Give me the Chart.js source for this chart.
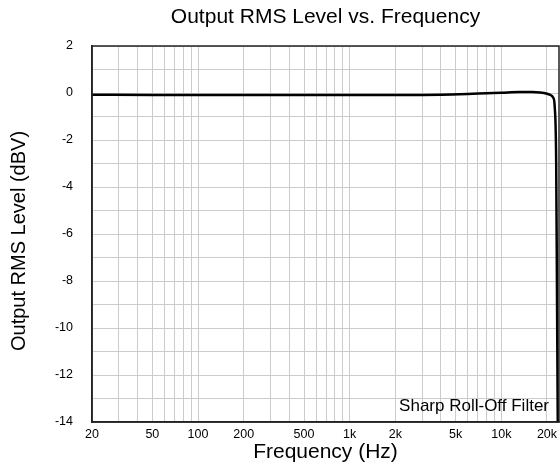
<!DOCTYPE html>
<html><head><meta charset="utf-8">
<script src="https://cdn.jsdelivr.net/npm/chart.js@4/dist/chart.umd.min.js"></script>
<style>html,body{margin:0;padding:0;background:#fff}#wrap{width:560px;height:471px}</style>
</head><body><div id="wrap"><canvas id="c"></canvas></div>
<script>
const freqs = [20, 50, 100, 200, 500, 1000, 2000, 4000, 6000, 8000, 10000, 13000, 16000, 18000, 20000, 21000, 22000, 22500, 23000, 23300, 23600];
const levels = [-0.07, -0.08, -0.08, -0.08, -0.08, -0.08, -0.08, -0.07, -0.04, -0.01, 0.01, 0.04, 0.04, 0.02, -0.03, -0.08, -0.2, -0.6, -3, -9, -15];
const xGridTicks = [20,30,40,50,60,70,80,90,100,200,300,400,500,600,700,800,900,1000,2000,3000,4000,5000,6000,7000,8000,9000,10000,20000];
const xLabels = {20:'20',50:'50',100:'100',200:'200',500:'500',1000:'1k',2000:'2k',5000:'5k',10000:'10k',20000:'20k'};
const yLabels = [2,0,-2,-4,-6,-8,-10,-12,-14];
const titleText = 'Output RMS Level vs. Frequency';
const yTitleText = 'Output RMS Level (dBV)';
const noteText = 'Sharp Roll-Off Filter';

const font = 'Liberation Sans, Arial, sans-serif';
const decorPlugin = {
  id: 'decor',
  beforeDraw(chart) {
    const ctx = chart.ctx;
    ctx.save(); ctx.fillStyle = '#fff'; ctx.fillRect(0,0,chart.width,chart.height); ctx.restore();
  },
  afterDatasetsDraw(chart) {
    const {ctx, chartArea} = chart;
    ctx.save();
    ctx.strokeStyle = '#222';
    ctx.lineWidth = 1.5;
    ctx.strokeRect(chartArea.left, chartArea.top, chartArea.right - chartArea.left, chartArea.bottom - chartArea.top);
    ctx.font = '17px ' + font;
    ctx.fillStyle = '#000';
    ctx.textAlign = 'right';
    ctx.textBaseline = 'middle';
    ctx.fillText(noteText, chartArea.right - 10, chartArea.bottom - 16);
    ctx.textAlign = 'center';
    ctx.font = '21px ' + font;
    ctx.fillText(titleText, (chartArea.left + chartArea.right) / 2, 17);
    ctx.translate(19, (chartArea.top + chartArea.bottom) / 2 + 7);
    ctx.rotate(-Math.PI / 2);
    ctx.font = '20px ' + font;
    ctx.fillText(yTitleText, 0, 0);
    ctx.restore();
  }
};

new Chart(document.getElementById('c'), {
  type: 'line',
  data: {
    datasets: [{
      data: freqs.map((f,i)=>({x:f, y:levels[i]})),
      borderColor: '#000',
      borderWidth: 2.5,
      pointRadius: 0,
      cubicInterpolationMode: 'monotone',
      fill: false
    }]
  },
  options: {
    responsive: true,
    maintainAspectRatio: false,
    animation: false,
    layout: { padding: { left: 0, right: 1, top: 46, bottom: 0 } },
    plugins: {
      legend: { display: false },
      tooltip: { enabled: false },
      title: { display: false }
    },
    scales: {
      x: {
        type: 'logarithmic',
        min: 20,
        max: 24000,
        afterBuildTicks(scale) { scale.ticks = xGridTicks.map(v => ({value: v})); },
        afterFit(scale) { scale.height = 49; scale.paddingRight = 0; scale.paddingLeft = 0; },
        ticks: {
          autoSkip: false,
          maxRotation: 0,
          color: '#000',
          padding: 5,
          font: { family: font, size: 12.5 },
          callback(v) { return xLabels[v] !== undefined ? xLabels[v] : ''; }
        },
        grid: { color: '#cccccc', lineWidth: 1, drawTicks: false },
        border: { color: '#222', width: 1.5 },
        title: {
          display: true,
          text: 'Frequency (Hz)',
          color: '#000',
          font: { family: font, size: 21 },
          padding: { top: 0, bottom: 6 }
        }
      },
      y: {
        min: -14,
        max: 2,
        afterBuildTicks(scale) {
          const t = [];
          for (let v = 2; v >= -14; v--) t.push({value: v});
          scale.ticks = t;
        },
        afterFit(scale) { scale.width = 92; scale.paddingTop = 0; scale.paddingBottom = 0; },
        ticks: {
          autoSkip: false,
          color: '#000',
          padding: 19,
          font: { family: font, size: 12.5 },
          callback(v) { return yLabels.includes(v) ? String(v) : ''; }
        },
        grid: { color: '#cccccc', lineWidth: 1, drawTicks: false },
        border: { color: '#222', width: 1.5 },
        title: { display: false }
      }
    }
  },
  plugins: [decorPlugin]
});
</script></body></html>
